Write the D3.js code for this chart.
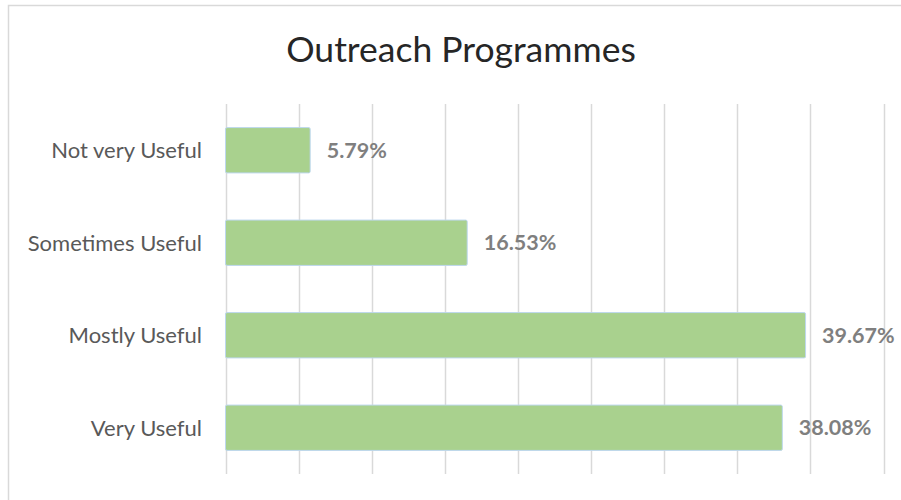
<!DOCTYPE html>
<html>
<head>
<meta charset="utf-8">
<script src="https://cdn.jsdelivr.net/npm/d3@7"></script>
<style>
  body { margin: 0; background: #fff; }
  svg text { font-family: Lato, "Open Sans", sans-serif; }
</style>
</head>
<body>
<div id="chart"></div>
<script>
// chart data
var categories = ["Not very Useful", "Sometimes Useful", "Mostly Useful", "Very Useful"];
var values = [5.79, 16.53, 39.67, 38.08];
var gridTicks = [0, 5, 10, 15, 20, 25, 30, 35, 40, 45];

var width = 901, height = 500;
var margin = {top: 104, right: 17.5, bottom: 26, left: 225.5};

var svg = d3.select("#chart").append("svg")
    .attr("width", width)
    .attr("height", height);

// chart area border (only top and left visible in frame)
svg.append("rect")
    .attr("x", 8.5).attr("y", 5.5)
    .attr("width", 1000).attr("height", 1000)
    .attr("fill", "#fff")
    .attr("stroke", "#d9d9d9")
    .attr("stroke-width", 1.5);

var x = d3.scaleLinear()
    .domain([0, 45])
    .range([margin.left, width - margin.right]);

var y = d3.scaleBand()
    .domain(categories)
    .range([margin.top, height - margin.bottom])
    .paddingInner(0.51)
    .paddingOuter(0.255);

// vertical gridlines
svg.append("g").selectAll("line")
    .data(gridTicks)
    .enter().append("line")
    .attr("x1", function(d) { return Math.round(x(d)) + 0.5; })
    .attr("x2", function(d) { return Math.round(x(d)) + 0.5; })
    .attr("y1", margin.top)
    .attr("y2", height - margin.bottom)
    .attr("stroke", "#d9d9d9")
    .attr("stroke-width", 1.5);

// bars
svg.append("g").selectAll("rect")
    .data(values)
    .enter().append("rect")
    .attr("x", x(0))
    .attr("y", function(d, i) { return y(categories[i]); })
    .attr("width", function(d) { return x(d) - x(0); })
    .attr("height", y.bandwidth())
    .attr("rx", 1.5)
    .attr("fill", "#a9d18e")
    .attr("stroke", "#bdd7ee")
    .attr("stroke-width", 1);

// value labels
svg.append("g").selectAll("text")
    .data(values)
    .enter().append("text")
    .attr("x", function(d) { return x(d) + 16.5; })
    .attr("y", function(d, i) { return y(categories[i]) + y.bandwidth() / 2; })
    .attr("dy", "0.36em")
    .attr("fill", "#7f7f7f")
    .attr("font-size", "21.5px")
    .attr("font-weight", "bold")
    .text(function(d) { return d.toFixed(2) + "%"; });

// category labels
svg.append("g").selectAll("text")
    .data(categories)
    .enter().append("text")
    .attr("x", 202)
    .attr("y", function(d) { return y(d) + y.bandwidth() / 2; })
    .attr("dy", "0.36em")
    .attr("text-anchor", "end")
    .attr("fill", "#595959")
    .attr("font-size", "22px")
    .text(function(d) { return d; });

// title
svg.append("text")
    .attr("x", 461)
    .attr("y", 62)
    .attr("text-anchor", "middle")
    .attr("fill", "#262626")
    .attr("font-size", "35.5px")
    .text("Outreach Programmes");
</script>
</body>
</html>
